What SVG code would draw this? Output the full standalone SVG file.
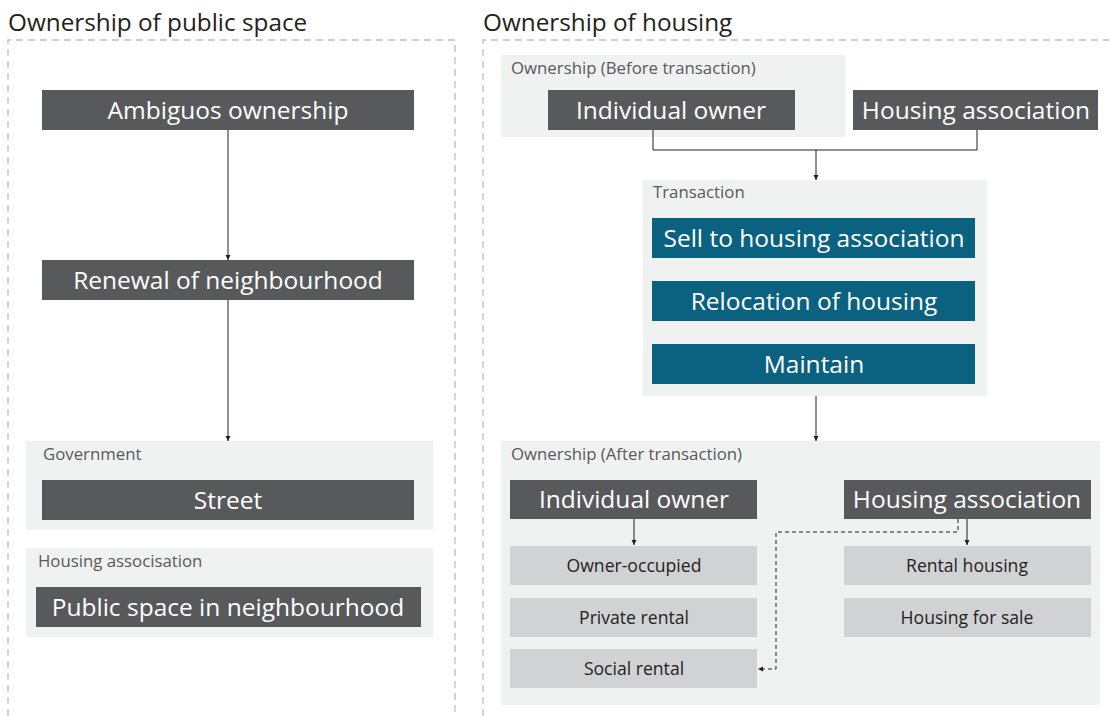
<svg xmlns="http://www.w3.org/2000/svg" width="1109" height="716" viewBox="0 0 1109 716">
<defs>
<style>
.title{font-family:"Open Sans","Liberation Sans",sans-serif;font-size:24.3px;fill:#231f20}
.lbl{font-family:"Open Sans","Liberation Sans",sans-serif;font-size:16.8px;fill:#58595b}
.bt{font-family:"Open Sans","Liberation Sans",sans-serif;font-size:24.5px;fill:#ffffff;text-anchor:middle}
.st{font-family:"Open Sans","Liberation Sans",sans-serif;font-size:17.6px;fill:#231f20;text-anchor:middle}
.dark{fill:#58595b}
.teal{fill:#0b6180}
.panel{fill:#f0f1f1}
.light{fill:#d1d2d4}
.frame{fill:none;stroke:#bcbec0;stroke-width:1.3;stroke-dasharray:7 5}
.con{fill:none;stroke:#231f20;stroke-width:1}
.dash{fill:none;stroke:#231f20;stroke-width:1;stroke-dasharray:4 3}
</style>
<marker id="ah" markerWidth="6" markerHeight="6" refX="5" refY="3" orient="auto" markerUnits="userSpaceOnUse">
<path d="M0,0.5 L5,3 L0,5.5 Z" fill="#231f20"/>
</marker>
</defs>
<rect width="1109" height="716" fill="#ffffff"/>

<g id="frames">
<text class="title" x="8" y="31">Ownership of public space</text>
<path class="frame" d="M8,716 V40 H455 V716"/>
<text class="title" x="483" y="31">Ownership of housing</text>
<path class="frame" d="M483,716 V40 H1109"/>
</g>

<g id="panel-government">
<rect class="panel" x="26" y="441" width="407" height="89"/>
<text class="lbl" x="43" y="460">Government</text>
</g>
<g id="panel-housing-assoc-left">
<rect class="panel" x="26" y="548" width="407" height="89"/>
<text class="lbl" x="38" y="567">Housing associsation</text>
</g>
<g id="panel-before">
<rect class="panel" x="501" y="55" width="344" height="82"/>
<text class="lbl" x="511" y="74">Ownership (Before transaction)</text>
</g>
<g id="panel-transaction">
<rect class="panel" x="643" y="180" width="344" height="216"/>
<text class="lbl" x="653" y="198">Transaction</text>
</g>
<g id="panel-after">
<rect class="panel" x="501" y="441" width="599" height="264"/>
<text class="lbl" x="511" y="460">Ownership (After transaction)</text>
</g>

<g id="ambiguous">
<rect class="dark" x="42" y="90" width="372" height="40"/>
<text class="bt" x="228" y="118.5">Ambiguos ownership</text>
</g>
<g id="renewal">
<rect class="dark" x="42" y="260" width="372" height="40"/>
<text class="bt" x="228" y="288.5">Renewal of neighbourhood</text>
</g>
<g id="street">
<rect class="dark" x="42" y="480" width="372" height="40"/>
<text class="bt" x="228" y="508.5">Street</text>
</g>
<g id="public-space">
<rect class="dark" x="36" y="587" width="385" height="40"/>
<text class="bt" x="228" y="615.5">Public space in neighbourhood</text>
</g>

<g id="individual-before">
<rect class="dark" x="548" y="90" width="247" height="40"/>
<text class="bt" x="671" y="118.5">Individual owner</text>
</g>
<g id="association-before">
<rect class="dark" x="853" y="90" width="245" height="40"/>
<text class="bt" x="976" y="118.5">Housing association</text>
</g>
<g id="sell">
<rect class="teal" x="652" y="218" width="323" height="40"/>
<text class="bt" x="814" y="246.5">Sell to housing association</text>
</g>
<g id="relocation">
<rect class="teal" x="652" y="281" width="323" height="40"/>
<text class="bt" x="814" y="309.5">Relocation of housing</text>
</g>
<g id="maintain">
<rect class="teal" x="652" y="344" width="323" height="40"/>
<text class="bt" x="814" y="372.5">Maintain</text>
</g>

<g id="individual-after">
<rect class="dark" x="510" y="480" width="247" height="39"/>
<text class="bt" x="634" y="508">Individual owner</text>
</g>
<g id="association-after">
<rect class="dark" x="844" y="480" width="247" height="39"/>
<text class="bt" x="967" y="508">Housing association</text>
</g>
<g id="owner-occupied">
<rect class="light" x="510" y="546" width="247" height="39"/>
<text class="st" x="634" y="572">Owner-occupied</text>
</g>
<g id="private-rental">
<rect class="light" x="510" y="598" width="247" height="39"/>
<text class="st" x="634" y="624">Private rental</text>
</g>
<g id="social-rental">
<rect class="light" x="510" y="649" width="247" height="39"/>
<text class="st" x="634" y="675">Social rental</text>
</g>
<g id="rental-housing">
<rect class="light" x="844" y="546" width="247" height="39"/>
<text class="st" x="967" y="572">Rental housing</text>
</g>
<g id="housing-sale">
<rect class="light" x="844" y="598" width="247" height="39"/>
<text class="st" x="967" y="624">Housing for sale</text>
</g>

<g id="connectors">
<line class="con" x1="228" y1="130" x2="228" y2="260" marker-end="url(#ah)"/>
<line class="con" x1="228" y1="300" x2="228" y2="441" marker-end="url(#ah)"/>
<path class="con" d="M653,130 V150 H977 V130"/>
<line class="con" x1="816" y1="150" x2="816" y2="180" marker-end="url(#ah)"/>
<line class="con" x1="816" y1="396" x2="816" y2="441" marker-end="url(#ah)"/>
<line class="con" x1="634" y1="519" x2="634" y2="545" marker-end="url(#ah)"/>
<line class="con" x1="967" y1="519" x2="967" y2="545" marker-end="url(#ah)"/>
<path class="dash" d="M958,519 V532 H776 V669 H758" marker-end="url(#ah)"/>
</g>
</svg>
